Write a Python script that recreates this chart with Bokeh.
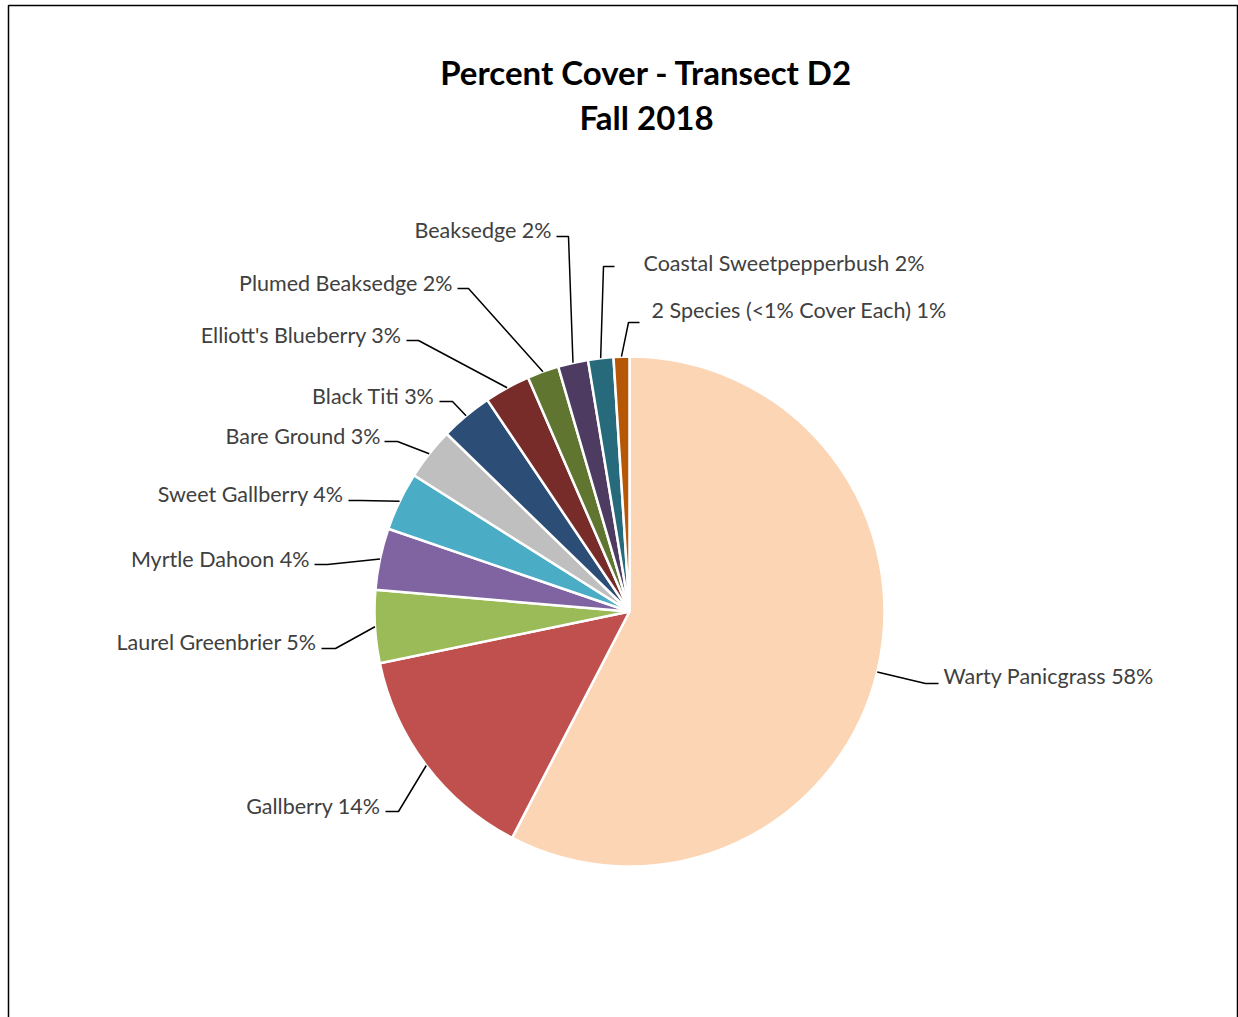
import math
from bokeh.plotting import figure
from bokeh.models import Range1d, ColumnDataSource
from bokeh.embed import file_html
from bokeh.resources import INLINE
from bokeh.core.properties import value

# ---------------- data ----------------
categories = ["Warty Panicgrass", "Gallberry", "Laurel Greenbrier", "Myrtle Dahoon",
              "Sweet Gallberry", "Bare Ground", "Black Titi", "Elliott's Blueberry",
              "Plumed Beaksedge", "Beaksedge", "Coastal Sweetpepperbush",
              "2 Species (<1% Cover Each)"]
cover = [57.5, 14.1, 4.6, 3.9, 3.7, 3.3, 3.3, 2.9, 2.0, 1.9, 1.6, 1.0]
colors = ["#FCD5B5", "#C0504D", "#9BBB59", "#8064A2", "#4BACC6", "#BFBFBF",
          "#2C4D75", "#772C2A", "#5F7530", "#4D3B62", "#276A7C", "#B65708"]
title_lines = ["Percent Cover - Transect D2", "Fall 2018"]

# ---------------- layout (pixel units, y measured from top) ----------------
W, H = 1238, 1017
CX, CY, R = 629, 611, 255
# per label: leader end x, leader end/elbow y, elbow x, text x, text y, text align
label_layout = [
    (938, 683, 925, 943, 675, "left"),
    (385, 811, 398, 380, 805, "right"),
    (321, 648, 335, 316, 641, "right"),
    (314, 564, 327, 309, 558, "right"),
    (348, 500, 360, 343, 493, "right"),
    (384, 441, 397, 380, 435, "right"),
    (439, 401, 452, 434, 395, "right"),
    (406, 340, 418, 401, 334, "right"),
    (457, 288, 468, 452, 282, "right"),
    (556, 236, 568, 551, 229, "right"),
    (614, 266, 603, 643, 262, "left"),
    (639, 322, 628, 651, 309, "left"),
]


def Y(v):
    return H - v


p = figure(width=W, height=H, x_range=Range1d(0, W), y_range=Range1d(0, H),
           x_axis_type=None, y_axis_type=None, output_backend="svg",
           toolbar_location=None, min_border=0, outline_line_color=None)
p.grid.visible = False
p.background_fill_color = "white"
p.border_fill_color = "white"

# chart frame
p.quad(left=[8], right=[1237], top=[Y(5)], bottom=[Y(1030)],
       fill_color=None, line_color="black", line_width=1.5)

total = sum(cover)
fracs = [c / total for c in cover]
starts, ends, mids = [], [], []
acc = 0.0
for f in fracs:
    a0 = math.pi / 2 - 2 * math.pi * (acc + f)
    a1 = math.pi / 2 - 2 * math.pi * acc
    starts.append(a0)
    ends.append(a1)
    mids.append((a0 + a1) / 2)
    acc += f

src = ColumnDataSource(dict(x=[CX] * len(cover), y=[Y(CY)] * len(cover),
                            start=starts, end=ends, color=colors))
p.wedge(x="x", y="y", radius=R, start_angle="start", end_angle="end",
        fill_color="color", line_color="white", line_width=2.5, source=src)

# leader lines and labels
xs, ys = [], []
tx, ty, tt, ta = [], [], [], []
for i, (ex, ey, bx, lx, ly, al) in enumerate(label_layout):
    px = CX + R * math.cos(mids[i])
    py = Y(CY) + R * math.sin(mids[i])
    xs.append([px, bx, ex])
    ys.append([py, Y(ey), Y(ey)])
    tx.append(lx)
    ty.append(Y(ly))
    tt.append(f"{categories[i]} {round(fracs[i] * 100)}%")
    ta.append(al)

p.multi_line(xs=xs, ys=ys, line_color="black", line_width=1.5)
lab = ColumnDataSource(dict(x=tx, y=ty, t=tt, a=ta))
p.text(x="x", y="y", text="t", text_align="a", text_baseline="middle",
       text_font=value("Lato"), text_font_size="21.5px", text_color="#404040",
       source=lab)

# title
p.text(x=[646, 646], y=[Y(71), Y(116)], text=title_lines, text_align="center",
       text_baseline="middle", text_font=value("Lato"), text_font_style="bold",
       text_font_size="33px", text_color="black")

open("out.html", "w").write(file_html(p, INLINE))
